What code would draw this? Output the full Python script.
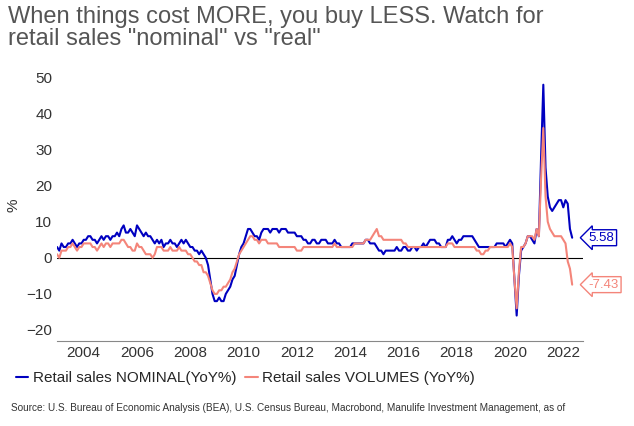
import numpy as np, pandas as pd, matplotlib
matplotlib.use("Agg")
import matplotlib.pyplot as plt, seaborn as sns

nominal = [3,2,4,3,3,4,4,5,4,3,4,4,
 5,5,6,6,5,5,4,5,6,5,6,6,
 5,6,6,7,6,8,9,7,7,8,7,6,
 9,8,7,6,7,6,6,5,4,5,4,5,
 3,4,4,5,4,4,3,4,5,4,5,4,
 3,3,2,2,1,2,1,0,-2,-6,-10,-12,
 -12,-11,-12,-12,-10,-9,-8,-6,-5,-2,1,3,
 4,6,8,8,7,6,6,5,7,8,8,8,
 7,8,8,8,7,8,8,8,7,7,7,7,
 6,6,6,5,5,4,4,5,5,4,4,5,
 5,5,4,4,4,5,4,4,3,3,3,3,
 3,4,4,4,4,4,4,5,5,4,4,4,
 3,2,2,1,2,2,2,2,2,3,2,2,
 3,3,2,2,3,3,2,3,3,4,3,4,
 5,5,5,4,4,3,3,3,5,5,6,5,
 4,5,5,6,6,6,6,6,5,4,3,3,
 3,3,3,3,3,3,4,4,4,4,3,4,
 5,4,-6,-16,-5,2,3,4,6,6,5,4,
 8,6,28,48,25,17,14,13,14,15,16,16,
 14,16,15,8,5.58]
real = [1,0,2,2,2,3,3,4,3,2,3,3,
 4,4,4,4,3,3,2,3,4,3,4,4,
 3,4,4,4,4,5,5,4,3,3,2,2,
 4,3,3,2,1,1,1,0,1,3,3,3,
 2,2,2,3,2,2,2,3,2,2,2,1,
 1,0,-1,-1,-2,-2,-4,-4,-5,-7,-9,-10,
 -10,-9,-9,-8,-8,-7,-6,-4,-3,-1,1,2,
 3,4,5,6,6,5,5,4,5,5,5,4,
 4,4,4,4,3,3,3,3,3,3,3,3,
 2,2,2,3,3,3,3,3,3,3,3,3,
 3,3,3,3,3,4,3,3,3,3,3,3,
 3,3,4,4,4,4,4,5,5,5,6,7,
 8,6,6,5,5,5,5,5,5,5,5,5,
 4,4,3,3,3,3,3,3,3,3,3,3,
 3,3,3,3,3,3,3,3,4,4,4,3,
 3,3,3,3,3,3,3,3,3,2,2,1,
 1,2,2,3,3,3,3,3,3,3,3,3,
 4,3,-6,-14,-4,3,3,4,6,6,6,5,
 8,6,22,36,17,10,8,7,6,6,6,6,
 5,4,-1,-3,-7.43]
xticks = [2004,2006,2008,2010,2012,2014,2016,2018,2020,2022]

t = 2003 + np.arange(len(nominal))/12
df = pd.DataFrame({"t": t, "nominal": nominal, "real": real})
blue, red = "#0000C0", "#F4857A"

sns.set_style("white")
plt.rcParams['font.family'] = ['Liberation Sans', 'DejaVu Sans']
fig = plt.figure(figsize=(6.34,4.26), dpi=100)
ax = fig.add_axes([0.09, 0.2, 0.83, 0.635])
sns.lineplot(data=df, x="t", y="nominal", color=blue, lw=1.5, ax=ax, label="Retail sales NOMINAL(YoY%)")
sns.lineplot(data=df, x="t", y="real", color=red, lw=1.5, ax=ax, label="Retail sales VOLUMES (YoY%)")
ax.axhline(0, color="black", lw=0.8, zorder=0)
ax.set_xlim(2003, 2022.75); ax.set_ylim(-23, 52)
ax.set_yticks(range(-20, 51, 10)); ax.set_xticks(xticks)
ax.tick_params(labelsize=11, colors="#333333", length=0)
ax.set_xlabel(""); ax.set_ylabel("%", fontsize=11, color="#333")
for s in ["top","right","left"]: ax.spines[s].set_visible(False)
ax.spines["bottom"].set_color("#888")
for v, c in [(nominal[-1], blue), (real[-1], red)]:
    ax.annotate(f"{v:.2f}", xy=(t[-1], v), xytext=(12, 0), textcoords="offset points",
                va="center", fontsize=9.5, color=c,
                bbox=dict(boxstyle="larrow,pad=0.15", fc="white", ec=c, lw=1),
                annotation_clip=False)
ax.legend(loc="upper left", bbox_to_anchor=(-0.09, -0.09), ncol=2, frameon=False,
          fontsize=11, handlelength=0.8, columnspacing=0.6, handletextpad=0.3, borderaxespad=0)
fig.text(0.012, 0.985, 'When things cost MORE, you buy LESS. Watch for\nretail sales "nominal" vs "real"',
         fontsize=17, color="#555555", va="top", linespacing=0.95)
fig.text(0.018, 0.035, "Source: U.S. Bureau of Economic Analysis (BEA), U.S. Census Bureau, Macrobond, Manulife Investment Management, as of",
         fontsize=7.2, color="#333")
fig.savefig("out.png", dpi=100)
